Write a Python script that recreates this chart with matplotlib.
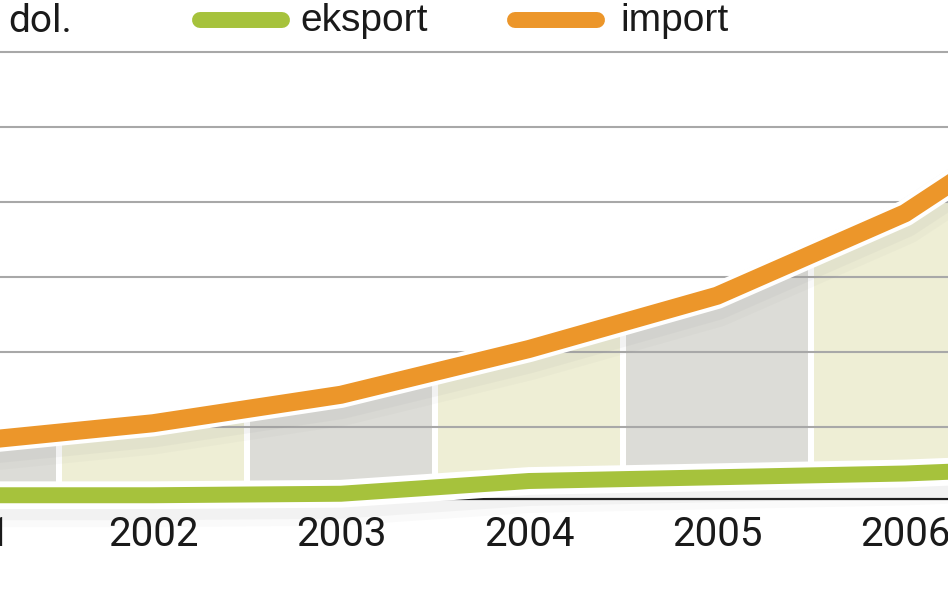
import matplotlib
matplotlib.use('Agg')
import matplotlib.pyplot as plt
import matplotlib.patheffects as pe
from matplotlib.patches import Rectangle
from matplotlib.lines import Line2D

# values (scale: one gridline = 10)
years = [2001, 2002, 2003, 2004, 2005, 2006, 2007]
eksport = [0.9, 0.9, 1.1, 2.8, 3.3, 3.8, 4.8]
import_ = [8.0, 10.5, 14.3, 20.4, 27.5, 38.5, 55.0]
grid_values = [10, 20, 30, 40, 50, 60]
unit_label = 'dol.'
series_names = ['eksport', 'import']

GREEN = '#a6c23c'
ORANGE = '#ec962a'
COL_GREY = '#dcdcd7'
COL_YELLOW = '#eeeed5'

fig = plt.figure(figsize=(9.48, 5.93), dpi=100)
ax = fig.add_axes([0, 0, 1, 1])
ax.set_xlim(2004 - 529 / 188, 2004 + (948 - 529) / 188)
ax.set_ylim((502 - 593) / 7.5, 502 / 7.5)
for s in ax.spines.values():
	s.set_visible(False)
ax.set_xticks([])
ax.set_yticks(grid_values)
ax.tick_params(left=False, labelleft=False)
ax.set_axisbelow('line')
ax.yaxis.grid(True, color='#a8a8a8', lw=1.5)

# alternating columns between the two curves
gap = 0.014
for i, yr in enumerate(years):
	col = COL_GREY if i % 2 == 0 else COL_YELLOW
	poly = ax.fill_between(years, eksport, import_, color=col, lw=0, zorder=1)
	clip = Rectangle((yr - 0.5 + gap, -20), 1 - 2 * gap, 200, transform=ax.transData)
	poly.set_clip_path(clip)

# baseline
ax.axhline(0.35, color='#1a1a1a', lw=1.6, zorder=2)

def halo(width):
	# soft shadow, white outline, then the line itself
	return [pe.SimpleLineShadow(offset=(0, -7), shadow_color='#808080', alpha=0.04, linewidth=width + 12),
			pe.SimpleLineShadow(offset=(0, -5), shadow_color='#808080', alpha=0.06, linewidth=width + 6),
			pe.Stroke(linewidth=width, foreground='white'),
			pe.Normal()]

ax.plot(years, eksport, color=GREEN, lw=11.5, solid_joinstyle='round', zorder=4,
		path_effects=halo(20))
ax.plot(years, import_, color=ORANGE, lw=13, solid_joinstyle='round', zorder=5,
		path_effects=halo(19))

# year labels
for yr in years:
	ax.text(yr, -4.4, str(yr), ha='center', va='center', fontsize=29,
			family=['Roboto', 'DejaVu Sans'], color='#1a1a1a', zorder=6)

# header: unit and legend
fig.text(8 / 948, 1 - 22 / 593, unit_label, ha='left', va='center', fontsize=28,
		 family=['Roboto', 'DejaVu Sans'], color='#1a1a1a')
legend_items = [(series_names[0], GREEN, 200, 282, 300), (series_names[1], ORANGE, 515, 597, 620)]
for name, col, x0, x1, xt in legend_items:
	fig.add_artist(Line2D([x0 / 948, x1 / 948], [1 - 20 / 593, 1 - 20 / 593], color=col,
						  lw=11.5, solid_capstyle='round', transform=fig.transFigure))
	fig.text(xt / 948, 1 - 21 / 593, name, ha='left', va='center', fontsize=28,
			 family=['Liberation Sans', 'DejaVu Sans'], color='#1a1a1a')

fig.savefig('out.png', dpi=100, facecolor='white')
